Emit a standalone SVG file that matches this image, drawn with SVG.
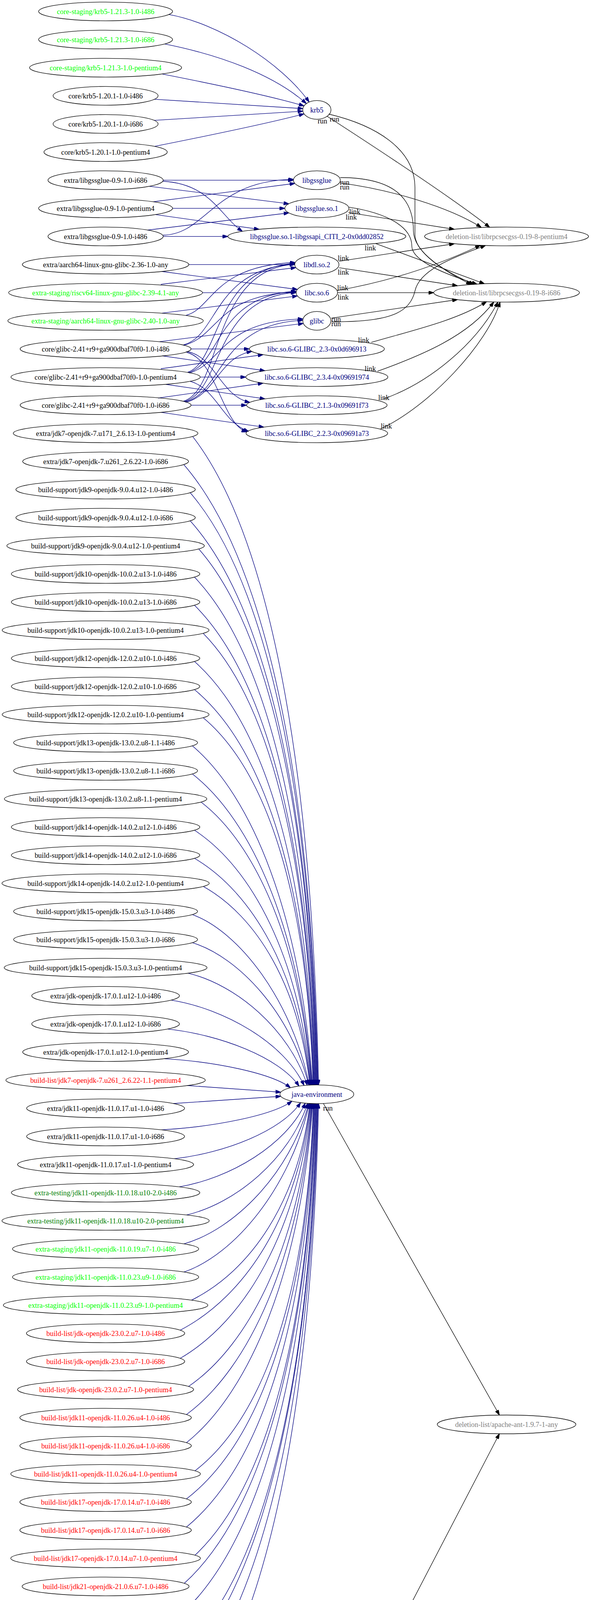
<svg xmlns="http://www.w3.org/2000/svg" width="1514" height="4739" viewBox="0 0 1514 4739">
<style>
text{font-family:"Liberation Serif","Times New Roman",serif;font-size:18.4px;text-anchor:middle}
.node ellipse{fill:none;stroke:#000;stroke-width:1.33}
.e{fill:none;stroke-width:1.33}
.b{stroke:#000080;marker-end:url(#ab)}
.k{stroke:#000;marker-end:url(#ak)}
.cn{fill:#000080}.cr{fill:#f00}.cg{fill:#008000}.cl{fill:#0f0}.cy{fill:#808080}.ck{fill:#000}
</style>
<defs>
<marker id="ab" viewBox="0 0 10 7" refX="10" refY="3.5" markerWidth="13.3" markerHeight="9.3" markerUnits="userSpaceOnUse" orient="auto"><path d="M0,0L10,3.5L0,7z" fill="#000080" stroke="#000080"/></marker>
<marker id="ak" viewBox="0 0 10 7" refX="10" refY="3.5" markerWidth="13.3" markerHeight="9.3" markerUnits="userSpaceOnUse" orient="auto"><path d="M0,0L10,3.5L0,7z" fill="#000" stroke="#000"/></marker>
</defs>
<rect width="1514" height="4739" fill="#fff"/>
<g id="edges">
<!-- krb5 -->
<path class="e b" d="M432.5,37.2C560,60 720,160 792,261.2"/>
<path class="e b" d="M422,112.6C560,140 700,190 784.8,265.2"/>
<path class="e b" d="M415,189.4C520,210 690,245 778.9,271.1"/>
<path class="e b" d="M395.6,254.1L775.9,278"/>
<path class="e b" d="M394.9,308.2L775.9,284.6"/>
<path class="e b" d="M396,374.7C520,350 690,315 778.9,291.5"/>
<!-- libgssglue -->
<path class="e b" d="M418.1,461.3L751.7,461.3"/>
<path class="e b" d="M382.7,476.9L740,521.7"/>
<path class="e b" d="M416.5,464C540,470 565,555 621,592.2"/>
<path class="e b" d="M393,516.5L755.3,469.5"/>
<path class="e b" d="M442.1,533.3L729.7,533.3"/>
<path class="e b" d="M398.4,549.3L664,587"/>
<path class="e b" d="M417.5,602C530,600 545,462 751.9,459.2"/>
<path class="e b" d="M378.3,589L740.1,545"/>
<path class="e b" d="M418.1,605.3L583.7,605.3"/>
<!-- glibc providers -->
<path class="e b" d="M483.8,677.3L755.1,677.3"/>
<path class="e b" d="M414.5,695L762,741"/>
<path class="e b" d="M412,728L758,685"/>
<path class="e b" d="M518.9,749.3L758.7,749.3"/>
<path class="e b" d="M415,801.7L762,757.6"/>
<path class="e b" d="M476,807.5C545,790 545,680 756.5,672"/>
<path class="e b" d="M470,883C560,860 545,690 755.2,675.5"/>
<path class="e b" d="M470,884C562,862 550,755 758.7,747.5"/>
<path class="e b" d="M409,874.7L777.1,828"/>
<path class="e b" d="M489.5,893.3L638.7,893.3"/>
<path class="e b" d="M416,911L678.6,949"/>
<path class="e b" d="M478,900C550,910 565,1015 640,1030"/>
<path class="e b" d="M478,902C555,920 568,1085 632,1105.9"/>
<path class="e b" d="M481,953C565,925 548,686 755,674.5"/>
<path class="e b" d="M483,954C567,928 552,758 758.5,745.5"/>
<path class="e b" d="M485,955C570,930 565,822 776.4,816.5"/>
<path class="e b" d="M412,944L674,908"/>
<path class="e b" d="M512.9,965.3L629.7,965.3"/>
<path class="e b" d="M425,984L678.6,1021"/>
<path class="e b" d="M487,976C555,995 568,1080 637,1104.4"/>
<path class="e b" d="M470,1027C568,1000 542,688 755,676.5"/>
<path class="e b" d="M472,1028C570,1003 546,760 758.7,748.5"/>
<path class="e b" d="M474,1029C572,1005 560,828 775.7,820"/>
<path class="e b" d="M476,1030C553,1010 560,915 645,899.7"/>
<path class="e b" d="M405,1019L674,981"/>
<path class="e b" d="M489.5,1037.3L631.7,1037.3"/>
<path class="e b" d="M412.2,1055.6L676,1093.4"/>
<!-- deletion edges -->
<path class="e k" d="M837,297C950,370 1150,500 1254.5,582"/>
<path class="e k" d="M842,292C960,320 1063,380 1063,480L1063,600C1063,650 1150,700 1207,728.4"/>
<path class="e k" d="M871.5,468.3C1000,485 1150,530 1233,582.1"/>
<path class="e k" d="M871.5,454.5C1000,455 1059,500 1059,590C1059,650 1150,700 1214,727.8"/>
<path class="e k" d="M892.8,544.1L1164,587"/>
<path class="e k" d="M893.8,530.3C990,545 1055,580 1055,630C1055,670 1150,705 1222,727.4"/>
<path class="e k" d="M962,623.3L1241,726.4"/>
<path class="e k" d="M868.8,668.8L1164,624"/>
<path class="e k" d="M868.8,685.3L1172,731.5"/>
<path class="e k" d="M863.5,743.8C1000,720 1120,680 1230.5,628"/>
<path class="e k" d="M864.7,749.3L1111,749.3"/>
<path class="e k" d="M850,823.7C1000,825 1050,800 1063,745C1075,690 1160,660 1243.8,628.5"/>
<path class="e k" d="M849,814.4L1172,767"/>
<path class="e k" d="M951.3,876.4C1060,845 1170,820 1246.5,772.4"/>
<path class="e k" d="M967,950.4C1080,910 1200,860 1265,773"/>
<path class="e k" d="M983,1021C1100,980 1220,880 1275.7,773.1"/>
<path class="e k" d="M975,1098C1100,1040 1250,880 1281,772.9"/>
<!-- java -->
<path class="e b" d="M493.5,1117.3C687,1366.3 799.9,1947.4 816,2777.5"/>
<path class="e b" d="M470.8,1189.3C677.1,1427.5 797.4,1983.4 814.6,2777.5"/>
<path class="e b" d="M487.2,1261.3C682.8,1488.7 796.9,2019.4 813.2,2777.5"/>
<path class="e b" d="M487.2,1333.3C682,1549.9 795.6,2055.4 811.8,2777.5"/>
<path class="e b" d="M509.1,1405.3C689.9,1611.1 795.3,2091.4 810.4,2777.5"/>
<path class="e b" d="M498.1,1477.3C684.6,1672.3 793.5,2127.4 809,2777.5"/>
<path class="e b" d="M498.1,1549.3C683.8,1733.5 792.1,2163.4 807.6,2777.5"/>
<path class="e b" d="M520.4,1621.3C691.9,1794.7 791.9,2199.4 806.2,2777.5"/>
<path class="e b" d="M498.1,1693.3C682.1,1855.9 789.5,2235.4 804.8,2777.5"/>
<path class="e b" d="M498.1,1765.3C681.3,1917.1 788.1,2271.4 803.4,2777.5"/>
<path class="e b" d="M520.4,1837.3C689.4,1978.3 787.9,2307.4 802,2777.5"/>
<path class="e b" d="M492.7,1909.3C646.7,2039.5 769.8,2343.4 800.6,2777.5"/>
<path class="e b" d="M492.7,1981.3C646,2100.7 768.5,2379.4 799.2,2777.5"/>
<path class="e b" d="M515,2053.3C656.4,2161.9 769.5,2415.4 797.8,2777.5"/>
<path class="e b" d="M498.1,2125.3C647.3,2223.1 766.6,2451.4 796.4,2777.5"/>
<path class="e b" d="M498.1,2197.3C646.6,2284.3 765.3,2487.4 795,2777.5"/>
<path class="e b" d="M520.9,2269.3C657.3,2345.5 766.3,2523.4 793.6,2777.5"/>
<path class="e b" d="M492.7,2341.3C612.5,2384.9 747.3,2559.4 792.2,2777.5"/>
<path class="e b" d="M492.7,2413.3C611.9,2449.7 746.1,2595.4 790.8,2777.5"/>
<path class="e b" d="M481.5,2491.3C603.7,2520 741.2,2634.7 787,2778.1"/>
<path class="e b" d="M438.7,2560.3C574.8,2582.2 728,2669.5 779,2778.8"/>
<path class="e b" d="M429.6,2634.3C564.2,2648.9 715.5,2707.3 766,2780.3"/>
<path class="e b" d="M420.5,2710.3C549.9,2717.7 695.5,2747.4 744,2784.5"/>
<path class="e b" d="M480.2,2779L719.4,2796"/>
<path class="e b" d="M444.2,2825L719.4,2806.5"/>
<path class="e b" d="M413.3,2892.3C547.2,2885 697.8,2855.7 748,2819"/>
<path class="e b" d="M446.6,2966.3C576,2951.9 721.5,2894.6 770,2822.8"/>
<path class="e b" d="M459,3038.3C588.2,3016.9 733.5,2931.2 782,2824.1"/>
<path class="e b" d="M477.9,3110.3C601.9,3081.7 741.5,2967.4 788,2824.5"/>
<path class="e b" d="M471.1,3184.3C599.1,3148.4 743,3004.7 791,2825"/>
<path class="e b" d="M471.1,3256.3C599.7,3213.2 744.3,3040.7 792.5,2825"/>
<path class="e b" d="M490.8,3328.3C642.4,3252.8 763.6,3076.7 793.9,2825"/>
<path class="e b" d="M461.7,3405.3C628.6,3318.3 762,3115.2 795.4,2825"/>
<path class="e b" d="M461.7,3477.3C629.3,3379.5 763.4,3151.2 796.9,2825"/>
<path class="e b" d="M483.1,3549.3C640.8,3440.7 766.9,3187.2 798.4,2825"/>
<path class="e b" d="M477.7,3621.3C638.8,3501.9 767.6,3223.2 799.8,2825"/>
<path class="e b" d="M477.7,3693.3C639.5,3563.1 768.9,3259.2 801.3,2825"/>
<path class="e b" d="M499.6,3765.3C681.5,3624.3 787.6,3295.2 802.8,2825"/>
<path class="e b" d="M477.7,3837.3C673.6,3685.5 787.9,3331.2 804.2,2825"/>
<path class="e b" d="M477.7,3909.3C674.5,3746.7 789.3,3367.2 805.7,2825"/>
<path class="e b" d="M499.6,3981.3C684.2,3807.9 791.8,3403.2 807.2,2825"/>
<path class="e b" d="M472.2,4053.3C674,3869.1 791.8,3439.2 808.6,2825"/>
<path class="e b" d="M472.2,4125.3C674.9,3930.3 793.2,3475.2 810.1,2825"/>
<path class="e b" d="M494.9,4197.3C684.9,3991.5 795.8,3511.2 811.6,2825"/>
<path class="e b" d="M462.1,4274.3C672.6,4056.9 795.5,3549.7 813,2825"/>
<path class="e b" d="M462.1,4346.3C673.5,4118.1 796.9,3585.7 814.5,2825"/>
<path class="e b" d="M479.4,4415.3C681.4,4176.8 799.2,3620.2 816,2825"/>
<path class="e k" d="M828.5,2825L1279.4,3622.6"/>
<!-- base -->
<path class="e b" d="M389,4508L777.3,4560.9"/>
<path class="e b" d="M424,4565.3L776.7,4565.3"/>
<path class="e b" d="M392,4620L777.3,4569.7"/>
<path class="e b" d="M368,4699.6C500,4680 650,4640 782,4578"/>
<path class="e k" d="M825.5,4543L1279.4,3670.4"/>
<path class="e k" d="M847,4561.6L1124.8,4542"/>
<path class="e k" d="M847,4569L1127.7,4588.8"/>
<!-- edge labels -->
<text class="ck" x="826" y="316">run</text>
<text class="ck" x="857" y="311">run</text>
<text class="ck" x="883" y="472.6">run</text>
<text class="ck" x="883" y="484.6">run</text>
<text class="ck" x="908.7" y="548.4">link</text>
<text class="ck" x="899.7" y="561.5">link</text>
<text class="ck" x="948.6" y="641.4">link</text>
<text class="ck" x="879.5" y="667">link</text>
<text class="ck" x="879.5" y="703.3">link</text>
<text class="ck" x="878" y="743">link</text>
<text class="ck" x="879" y="767">link</text>
<text class="ck" x="861" y="823">run</text>
<text class="ck" x="861" y="835">run</text>
<text class="ck" x="931.6" y="876.5">link</text>
<text class="ck" x="948.6" y="949.6">link</text>
<text class="ck" x="983.2" y="1023.6">link</text>
<text class="ck" x="989.7" y="1097.3">link</text>
<text class="ck" x="840" y="2843">run</text>
<text class="ck" x="813" y="4541">run</text>
<text class="ck" x="859.3" y="4567.6">run</text>
<text class="ck" x="859.3" y="4581">run</text>
</g>
<!-- left column nodes -->
<g id="n0" class="node"><ellipse cx="270.5" cy="29.3" rx="171.6" ry="24"/><text class="cl" x="270.5" y="35.8">core-staging/krb5-1.21.3-1.0-i486</text></g>
<g id="n1" class="node"><ellipse cx="270.5" cy="101.3" rx="171.6" ry="24"/><text class="cl" x="270.5" y="107.8">core-staging/krb5-1.21.3-1.0-i686</text></g>
<g id="n2" class="node"><ellipse cx="270.5" cy="173.3" rx="194.8" ry="24"/><text class="cl" x="270.5" y="179.8">core-staging/krb5-1.21.3-1.0-pentium4</text></g>
<g id="n3" class="node"><ellipse cx="270.5" cy="245.3" rx="134.5" ry="24"/><text class="ck" x="270.5" y="251.8">core/krb5-1.20.1-1.0-i486</text></g>
<g id="n4" class="node"><ellipse cx="270.5" cy="317.3" rx="134.5" ry="24"/><text class="ck" x="270.5" y="323.8">core/krb5-1.20.1-1.0-i686</text></g>
<g id="n5" class="node"><ellipse cx="270.5" cy="389.3" rx="158" ry="24"/><text class="ck" x="270.5" y="395.8">core/krb5-1.20.1-1.0-pentium4</text></g>
<g id="n6" class="node"><ellipse cx="270.5" cy="461.3" rx="147.6" ry="24"/><text class="ck" x="270.5" y="467.8">extra/libgssglue-0.9-1.0-i686</text></g>
<g id="n7" class="node"><ellipse cx="270.5" cy="533.3" rx="171.6" ry="24"/><text class="ck" x="270.5" y="539.8">extra/libgssglue-0.9-1.0-pentium4</text></g>
<g id="n8" class="node"><ellipse cx="270.5" cy="605.3" rx="147.6" ry="24"/><text class="ck" x="270.5" y="611.8">extra/libgssglue-0.9-1.0-i486</text></g>
<g id="n9" class="node"><ellipse cx="270.5" cy="677.3" rx="213.3" ry="24"/><text class="ck" x="270.5" y="683.8">extra/aarch64-linux-gnu-glibc-2.36-1.0-any</text></g>
<g id="n10" class="node"><ellipse cx="270.5" cy="749.3" rx="248.4" ry="24"/><text class="cl" x="270.5" y="755.8">extra-staging/riscv64-linux-gnu-glibc-2.39-4.1-any</text></g>
<g id="n11" class="node"><ellipse cx="270.5" cy="821.3" rx="250.4" ry="24"/><text class="cl" x="270.5" y="827.8">extra-staging/aarch64-linux-gnu-glibc-2.40-1.0-any</text></g>
<g id="n12" class="node"><ellipse cx="270.5" cy="893.3" rx="219" ry="24"/><text class="ck" x="270.5" y="899.8">core/glibc-2.41+r9+ga900dbaf70f0-1.0-i486</text></g>
<g id="n13" class="node"><ellipse cx="270.5" cy="965.3" rx="242.4" ry="24"/><text class="ck" x="270.5" y="971.8">core/glibc-2.41+r9+ga900dbaf70f0-1.0-pentium4</text></g>
<g id="n14" class="node"><ellipse cx="270.5" cy="1037.3" rx="219" ry="24"/><text class="ck" x="270.5" y="1043.8">core/glibc-2.41+r9+ga900dbaf70f0-1.0-i686</text></g>
<g id="n15" class="node"><ellipse cx="270.5" cy="1109.3" rx="236.5" ry="24"/><text class="ck" x="270.5" y="1115.8">extra/jdk7-openjdk-7.u171_2.6.13-1.0-pentium4</text></g>
<g id="n16" class="node"><ellipse cx="270.5" cy="1181.3" rx="212.4" ry="24"/><text class="ck" x="270.5" y="1187.8">extra/jdk7-openjdk-7.u261_2.6.22-1.0-i686</text></g>
<g id="n17" class="node"><ellipse cx="270.5" cy="1253.3" rx="229.8" ry="24"/><text class="ck" x="270.5" y="1259.8">build-support/jdk9-openjdk-9.0.4.u12-1.0-i486</text></g>
<g id="n18" class="node"><ellipse cx="270.5" cy="1325.3" rx="229.8" ry="24"/><text class="ck" x="270.5" y="1331.8">build-support/jdk9-openjdk-9.0.4.u12-1.0-i686</text></g>
<g id="n19" class="node"><ellipse cx="270.5" cy="1397.3" rx="253" ry="24"/><text class="ck" x="270.5" y="1403.8">build-support/jdk9-openjdk-9.0.4.u12-1.0-pentium4</text></g>
<g id="n20" class="node"><ellipse cx="270.5" cy="1469.3" rx="241.4" ry="24"/><text class="ck" x="270.5" y="1475.8">build-support/jdk10-openjdk-10.0.2.u13-1.0-i486</text></g>
<g id="n21" class="node"><ellipse cx="270.5" cy="1541.3" rx="241.4" ry="24"/><text class="ck" x="270.5" y="1547.8">build-support/jdk10-openjdk-10.0.2.u13-1.0-i686</text></g>
<g id="n22" class="node"><ellipse cx="270.5" cy="1613.3" rx="265" ry="24"/><text class="ck" x="270.5" y="1619.8">build-support/jdk10-openjdk-10.0.2.u13-1.0-pentium4</text></g>
<g id="n23" class="node"><ellipse cx="270.5" cy="1685.3" rx="241.4" ry="24"/><text class="ck" x="270.5" y="1691.8">build-support/jdk12-openjdk-12.0.2.u10-1.0-i486</text></g>
<g id="n24" class="node"><ellipse cx="270.5" cy="1757.3" rx="241.4" ry="24"/><text class="ck" x="270.5" y="1763.8">build-support/jdk12-openjdk-12.0.2.u10-1.0-i686</text></g>
<g id="n25" class="node"><ellipse cx="270.5" cy="1829.3" rx="265" ry="24"/><text class="ck" x="270.5" y="1835.8">build-support/jdk12-openjdk-12.0.2.u10-1.0-pentium4</text></g>
<g id="n26" class="node"><ellipse cx="270.5" cy="1901.3" rx="235.6" ry="24"/><text class="ck" x="270.5" y="1907.8">build-support/jdk13-openjdk-13.0.2.u8-1.1-i486</text></g>
<g id="n27" class="node"><ellipse cx="270.5" cy="1973.3" rx="235.6" ry="24"/><text class="ck" x="270.5" y="1979.8">build-support/jdk13-openjdk-13.0.2.u8-1.1-i686</text></g>
<g id="n28" class="node"><ellipse cx="270.5" cy="2045.3" rx="259.3" ry="24"/><text class="ck" x="270.5" y="2051.8">build-support/jdk13-openjdk-13.0.2.u8-1.1-pentium4</text></g>
<g id="n29" class="node"><ellipse cx="270.5" cy="2117.3" rx="241.4" ry="24"/><text class="ck" x="270.5" y="2123.8">build-support/jdk14-openjdk-14.0.2.u12-1.0-i486</text></g>
<g id="n30" class="node"><ellipse cx="270.5" cy="2189.3" rx="241.4" ry="24"/><text class="ck" x="270.5" y="2195.8">build-support/jdk14-openjdk-14.0.2.u12-1.0-i686</text></g>
<g id="n31" class="node"><ellipse cx="270.5" cy="2261.3" rx="265.5" ry="24"/><text class="ck" x="270.5" y="2267.8">build-support/jdk14-openjdk-14.0.2.u12-1.0-pentium4</text></g>
<g id="n32" class="node"><ellipse cx="270.5" cy="2333.3" rx="235.6" ry="24"/><text class="ck" x="270.5" y="2339.8">build-support/jdk15-openjdk-15.0.3.u3-1.0-i486</text></g>
<g id="n33" class="node"><ellipse cx="270.5" cy="2405.3" rx="235.6" ry="24"/><text class="ck" x="270.5" y="2411.8">build-support/jdk15-openjdk-15.0.3.u3-1.0-i686</text></g>
<g id="n34" class="node"><ellipse cx="270.5" cy="2477.3" rx="259.8" ry="24"/><text class="ck" x="270.5" y="2483.8">build-support/jdk15-openjdk-15.0.3.u3-1.0-pentium4</text></g>
<g id="n35" class="node"><ellipse cx="270.5" cy="2549.3" rx="189.2" ry="24"/><text class="ck" x="270.5" y="2555.8">extra/jdk-openjdk-17.0.1.u12-1.0-i486</text></g>
<g id="n36" class="node"><ellipse cx="270.5" cy="2621.3" rx="189.2" ry="24"/><text class="ck" x="270.5" y="2627.8">extra/jdk-openjdk-17.0.1.u12-1.0-i686</text></g>
<g id="n37" class="node"><ellipse cx="270.5" cy="2693.3" rx="212.4" ry="24"/><text class="ck" x="270.5" y="2699.8">extra/jdk-openjdk-17.0.1.u12-1.0-pentium4</text></g>
<g id="n38" class="node"><ellipse cx="270.5" cy="2765.3" rx="255.4" ry="24"/><text class="cr" x="270.5" y="2771.8">build-list/jdk7-openjdk-7.u261_2.6.22-1.1-pentium4</text></g>
<g id="n39" class="node"><ellipse cx="270.5" cy="2837.3" rx="202.3" ry="24"/><text class="ck" x="270.5" y="2843.8">extra/jdk11-openjdk-11.0.17.u1-1.0-i486</text></g>
<g id="n40" class="node"><ellipse cx="270.5" cy="2909.3" rx="202.3" ry="24"/><text class="ck" x="270.5" y="2915.8">extra/jdk11-openjdk-11.0.17.u1-1.0-i686</text></g>
<g id="n41" class="node"><ellipse cx="270.5" cy="2981.3" rx="225.5" ry="24"/><text class="ck" x="270.5" y="2987.8">extra/jdk11-openjdk-11.0.17.u1-1.0-pentium4</text></g>
<g id="n42" class="node"><ellipse cx="270.5" cy="3053.3" rx="241.4" ry="24"/><text class="cg" x="270.5" y="3059.8">extra-testing/jdk11-openjdk-11.0.18.u10-2.0-i486</text></g>
<g id="n43" class="node"><ellipse cx="270.5" cy="3125.3" rx="265.5" ry="24"/><text class="cg" x="270.5" y="3131.8">extra-testing/jdk11-openjdk-11.0.18.u10-2.0-pentium4</text></g>
<g id="n44" class="node"><ellipse cx="270.5" cy="3197.3" rx="238.5" ry="24"/><text class="cl" x="270.5" y="3203.8">extra-staging/jdk11-openjdk-11.0.19.u7-1.0-i486</text></g>
<g id="n45" class="node"><ellipse cx="270.5" cy="3269.3" rx="238.5" ry="24"/><text class="cl" x="270.5" y="3275.8">extra-staging/jdk11-openjdk-11.0.23.u9-1.0-i686</text></g>
<g id="n46" class="node"><ellipse cx="270.5" cy="3341.3" rx="262" ry="24"/><text class="cl" x="270.5" y="3347.8">extra-staging/jdk11-openjdk-11.0.23.u9-1.0-pentium4</text></g>
<g id="n47" class="node"><ellipse cx="270.5" cy="3413.3" rx="202.8" ry="24"/><text class="cr" x="270.5" y="3419.8">build-list/jdk-openjdk-23.0.2.u7-1.0-i486</text></g>
<g id="n48" class="node"><ellipse cx="270.5" cy="3485.3" rx="202.8" ry="24"/><text class="cr" x="270.5" y="3491.8">build-list/jdk-openjdk-23.0.2.u7-1.0-i686</text></g>
<g id="n49" class="node"><ellipse cx="270.5" cy="3557.3" rx="225.5" ry="24"/><text class="cr" x="270.5" y="3563.8">build-list/jdk-openjdk-23.0.2.u7-1.0-pentium4</text></g>
<g id="n50" class="node"><ellipse cx="270.5" cy="3629.3" rx="219.7" ry="24"/><text class="cr" x="270.5" y="3635.8">build-list/jdk11-openjdk-11.0.26.u4-1.0-i486</text></g>
<g id="n51" class="node"><ellipse cx="270.5" cy="3701.3" rx="219.7" ry="24"/><text class="cr" x="270.5" y="3707.8">build-list/jdk11-openjdk-11.0.26.u4-1.0-i686</text></g>
<g id="n52" class="node"><ellipse cx="270.5" cy="3773.3" rx="242.9" ry="24"/><text class="cr" x="270.5" y="3779.8">build-list/jdk11-openjdk-11.0.26.u4-1.0-pentium4</text></g>
<g id="n53" class="node"><ellipse cx="270.5" cy="3845.3" rx="219.7" ry="24"/><text class="cr" x="270.5" y="3851.8">build-list/jdk17-openjdk-17.0.14.u7-1.0-i486</text></g>
<g id="n54" class="node"><ellipse cx="270.5" cy="3917.3" rx="219.7" ry="24"/><text class="cr" x="270.5" y="3923.8">build-list/jdk17-openjdk-17.0.14.u7-1.0-i686</text></g>
<g id="n55" class="node"><ellipse cx="270.5" cy="3989.3" rx="242.9" ry="24"/><text class="cr" x="270.5" y="3995.8">build-list/jdk17-openjdk-17.0.14.u7-1.0-pentium4</text></g>
<g id="n56" class="node"><ellipse cx="270.5" cy="4061.3" rx="213.9" ry="24"/><text class="cr" x="270.5" y="4067.8">build-list/jdk21-openjdk-21.0.6.u7-1.0-i486</text></g>
<g id="n57" class="node"><ellipse cx="270.5" cy="4133.3" rx="213.9" ry="24"/><text class="cr" x="270.5" y="4139.8">build-list/jdk21-openjdk-21.0.6.u7-1.0-i686</text></g>
<g id="n58" class="node"><ellipse cx="270.5" cy="4205.3" rx="238" ry="24"/><text class="cr" x="270.5" y="4211.8">build-list/jdk21-openjdk-21.0.6.u7-1.0-pentium4</text></g>
<g id="n59" class="node"><ellipse cx="270.5" cy="4277.3" rx="193.1" ry="24"/><text class="ck" x="270.5" y="4283.8">extra/jdk8-openjdk-8.442.u06-1.0-i486</text></g>
<g id="n60" class="node"><ellipse cx="270.5" cy="4349.3" rx="193.1" ry="24"/><text class="ck" x="270.5" y="4355.8">extra/jdk8-openjdk-8.442.u06-1.0-i686</text></g>
<g id="n61" class="node"><ellipse cx="270.5" cy="4421.3" rx="215.8" ry="24"/><text class="ck" x="270.5" y="4427.8">extra/jdk8-openjdk-8.442.u06-1.0-pentium4</text></g>
<g id="n62" class="node"><ellipse cx="270.5" cy="4493.3" rx="153.5" ry="24"/><text class="ck" x="270.5" y="4499.8">core/pcmciautils-018-9.0-i486</text></g>
<g id="n63" class="node"><ellipse cx="270.5" cy="4565.3" rx="153.5" ry="24"/><text class="ck" x="270.5" y="4571.8">core/pcmciautils-018-9.0-i686</text></g>
<g id="n64" class="node"><ellipse cx="270.5" cy="4637.3" rx="177.2" ry="24"/><text class="ck" x="270.5" y="4643.8">core/pcmciautils-018-9.0-pentium4</text></g>
<g id="n65" class="node"><ellipse cx="270.5" cy="4709.3" rx="104.8" ry="24"/><text class="ck" x="270.5" y="4715.8">core/base-3-2.0-any</text></g>
<!-- middle column -->
<g id="krb5" class="node"><ellipse cx="811.7" cy="281.3" rx="36.2" ry="24"/><text class="cn" x="811.7" y="287.8">krb5</text></g>
<g id="libgssglue" class="node"><ellipse cx="811.7" cy="461.3" rx="60" ry="24"/><text class="cn" x="811.7" y="467.8">libgssglue</text></g>
<g id="libgssglue_so1" class="node"><ellipse cx="811.7" cy="533.3" rx="82" ry="24"/><text class="cn" x="811.7" y="539.8">libgssglue.so.1</text></g>
<g id="citi" class="node"><ellipse cx="811.7" cy="605.3" rx="228" ry="24"/><text class="cn" x="811.7" y="611.8">libgssglue.so.1-libgssapi_CITI_2-0x0dd02852</text></g>
<g id="libdl" class="node"><ellipse cx="811.7" cy="677.3" rx="56.6" ry="24"/><text class="cn" x="811.7" y="683.8">libdl.so.2</text></g>
<g id="libc" class="node"><ellipse cx="811.7" cy="749.3" rx="53" ry="24"/><text class="cn" x="811.7" y="755.8">libc.so.6</text></g>
<g id="glibc" class="node"><ellipse cx="811.7" cy="821.3" rx="36" ry="24"/><text class="cn" x="811.7" y="827.8">glibc</text></g>
<g id="g23" class="node"><ellipse cx="811.7" cy="893.3" rx="173" ry="24"/><text class="cn" x="811.7" y="899.8">libc.so.6-GLIBC_2.3-0x0d696913</text></g>
<g id="g234" class="node"><ellipse cx="811.7" cy="965.3" rx="182" ry="24"/><text class="cn" x="811.7" y="971.8">libc.so.6-GLIBC_2.3.4-0x09691974</text></g>
<g id="g213" class="node"><ellipse cx="811.7" cy="1037.3" rx="180" ry="24"/><text class="cn" x="811.7" y="1043.8">libc.so.6-GLIBC_2.1.3-0x09691f73</text></g>
<g id="g223" class="node"><ellipse cx="811.7" cy="1109.3" rx="181.5" ry="24"/><text class="cn" x="811.7" y="1115.8">libc.so.6-GLIBC_2.2.3-0x09691a73</text></g>
<g id="java" class="node"><ellipse cx="811.7" cy="2801.3" rx="94.6" ry="24"/><text class="cn" x="811.7" y="2807.8">java-environment</text></g>
<g id="base" class="node"><ellipse cx="811.7" cy="4565.3" rx="35" ry="24"/><text class="cn" x="811.7" y="4571.8">base</text></g>
<!-- deletion column -->
<g id="del_rpc_p4" class="node"><ellipse cx="1297.7" cy="605.3" rx="210" ry="24"/><text class="cy" x="1297.7" y="611.8">deletion-list/librpcsecgss-0.19-8-pentium4</text></g>
<g id="del_rpc_i686" class="node"><ellipse cx="1297.7" cy="749.3" rx="186.7" ry="24"/><text class="cy" x="1297.7" y="755.8">deletion-list/librpcsecgss-0.19-8-i686</text></g>
<g id="del_ant" class="node"><ellipse cx="1297.7" cy="3646.5" rx="177.6" ry="24"/><text class="cy" x="1297.7" y="3653">deletion-list/apache-ant-1.9.7-1-any</text></g>
<g id="del_alien" class="node"><ellipse cx="1297.7" cy="4529.3" rx="203.7" ry="24"/><text class="cy" x="1297.7" y="4535.8">deletion-list/alienarena-data-7.66-1.0-any</text></g>
<g id="del_antdoc" class="node"><ellipse cx="1297.7" cy="4601.3" rx="199" ry="24"/><text class="cy" x="1297.7" y="4607.8">deletion-list/apache-ant-doc-1.9.7-1-any</text></g>
</svg>
